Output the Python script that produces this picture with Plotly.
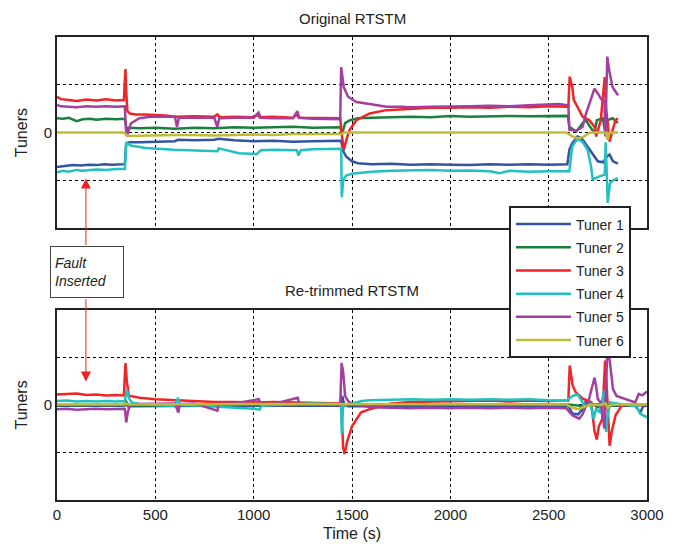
import plotly.graph_objects as go

# ---------------- DATA ----------------
names = ["Tuner 1", "Tuner 2", "Tuner 3", "Tuner 4", "Tuner 5", "Tuner 6"]
colors = ["#3553A3", "#1A803E", "#F02525", "#22C0C0", "#A43FA0", "#BDBD35"]

# Original RTSTM (top panel)
t1_top = [0, 40, 80, 120, 160, 200, 240, 280, 320, 345, 352, 370, 420, 480, 540, 600, 615, 700, 800, 820, 900, 1000, 1100, 1200, 1300, 1400, 1445, 1455, 1470, 1500, 1530, 1600, 1700, 1800, 1900, 2000, 2100, 2200, 2300, 2400, 2500, 2595, 2605, 2620, 2647, 2673, 2698, 2724, 2750, 2776, 2797, 2810, 2827, 2852]
v1_top = [-0.72, -0.70, -0.68, -0.69, -0.67, -0.68, -0.66, -0.67, -0.66, -0.66, -0.22, -0.20, -0.20, -0.19, -0.19, -0.18, -0.15, -0.16, -0.15, -0.13, -0.16, -0.18, -0.17, -0.19, -0.18, -0.17, -0.17, -0.38, -0.50, -0.60, -0.64, -0.66, -0.65, -0.67, -0.66, -0.67, -0.68, -0.66, -0.67, -0.66, -0.67, -0.66, -0.36, -0.22, -0.08, -0.15, -0.29, -0.43, -0.60, -0.62, -0.50, -0.46, -0.60, -0.65]

t2_top = [0, 30, 60, 100, 130, 170, 200, 250, 300, 345, 355, 365, 420, 500, 600, 700, 800, 900, 1000, 1100, 1200, 1300, 1400, 1440, 1450, 1465, 1490, 1530, 1600, 1700, 1800, 1900, 2000, 2100, 2200, 2300, 2400, 2500, 2598, 2605, 2640, 2673, 2690, 2707, 2733, 2745, 2775, 2788, 2800, 2825, 2852]
v2_top = [0.30, 0.29, 0.31, 0.24, 0.28, 0.29, 0.27, 0.29, 0.28, 0.29, 0.05, 0.10, 0.09, 0.10, 0.08, 0.10, 0.09, 0.11, 0.10, 0.11, 0.12, 0.10, 0.11, 0.11, -0.02, 0.20, 0.26, 0.30, 0.31, 0.32, 0.33, 0.32, 0.35, 0.33, 0.34, 0.35, 0.34, 0.35, 0.35, 0.12, 0.02, 0.20, 0.26, 0.14, -0.01, 0.26, 0.30, 0.00, 0.26, 0.30, 0.20]

t3_top = [0, 20, 60, 100, 150, 200, 250, 300, 340, 348, 352, 358, 370, 400, 450, 500, 550, 600, 700, 800, 815, 830, 900, 1000, 1020, 1030, 1100, 1200, 1220, 1230, 1300, 1400, 1440, 1450, 1458, 1475, 1488, 1522, 1560, 1590, 1675, 1750, 1845, 1900, 2000, 2100, 2200, 2300, 2400, 2500, 2600, 2607, 2620, 2628, 2673, 2707, 2733, 2742, 2765, 2785, 2792, 2810, 2823, 2840, 2852]
v3_top = [0.75, 0.70, 0.68, 0.66, 0.69, 0.67, 0.70, 0.67, 0.68, 1.33, 0.85, 0.45, 0.40, 0.38, 0.38, 0.37, 0.36, 0.33, 0.34, 0.33, 0.38, 0.32, 0.33, 0.32, 0.38, 0.32, 0.33, 0.31, 0.38, 0.31, 0.31, 0.31, 0.30, -0.10, -0.36, -0.10, 0.06, 0.26, 0.34, 0.40, 0.47, 0.49, 0.50, 0.52, 0.52, 0.53, 0.52, 0.54, 0.53, 0.55, 0.54, 1.17, 0.95, 0.68, 0.33, 0.26, 0.12, -0.08, 0.26, 1.16, 0.50, -0.19, 0.02, 0.26, 0.30]

t4_top = [0, 30, 60, 100, 130, 170, 200, 250, 300, 345, 352, 375, 450, 595, 700, 816, 822, 926, 1015, 1037, 1100, 1200, 1220, 1228, 1240, 1300, 1400, 1445, 1448, 1455, 1470, 1500, 1550, 1600, 1700, 1800, 1900, 2000, 2100, 2200, 2250, 2300, 2400, 2500, 2598, 2605, 2620, 2647, 2673, 2698, 2715, 2724, 2755, 2785, 2790, 2800, 2812, 2827, 2852]
v4_top = [-0.83, -0.80, -0.82, -0.78, -0.80, -0.78, -0.77, -0.78, -0.76, -0.76, -0.20, -0.27, -0.32, -0.36, -0.37, -0.39, -0.33, -0.43, -0.45, -0.37, -0.36, -0.36, -0.37, -0.48, -0.37, -0.35, -0.34, -0.34, -1.35, -1.00, -0.90, -0.86, -0.84, -0.82, -0.80, -0.79, -0.78, -0.80, -0.79, -0.81, -0.85, -0.80, -0.82, -0.81, -0.80, -0.81, -0.29, -0.12, -0.20, -0.36, -0.70, -0.98, -0.92, -0.88, -0.20, -1.47, -1.05, -1.00, -0.95]

t5_top = [0, 20, 60, 100, 150, 200, 250, 300, 345, 350, 356, 375, 419, 474, 560, 600, 610, 620, 700, 800, 815, 825, 900, 1000, 1025, 1035, 1100, 1200, 1222, 1232, 1300, 1400, 1440, 1445, 1458, 1480, 1522, 1590, 1675, 1750, 1800, 1900, 2000, 2100, 2200, 2300, 2400, 2500, 2550, 2600, 2605, 2640, 2672, 2690, 2715, 2733, 2750, 2767, 2784, 2788, 2798, 2808, 2825, 2853]
v5_top = [0.58, 0.55, 0.54, 0.53, 0.55, 0.54, 0.55, 0.54, 0.55, 0.10, -0.08, 0.19, 0.30, 0.33, 0.33, 0.33, 0.12, 0.31, 0.31, 0.31, 0.12, 0.30, 0.31, 0.31, 0.42, 0.31, 0.30, 0.30, 0.45, 0.31, 0.29, 0.29, 0.28, 1.37, 0.95, 0.75, 0.64, 0.60, 0.54, 0.54, 0.53, 0.54, 0.54, 0.55, 0.56, 0.55, 0.57, 0.58, 0.60, 0.57, 0.06, 0.04, 0.12, 0.40, 0.70, 0.92, 0.82, 0.70, 0.66, -0.08, 1.59, 1.30, 0.95, 0.78]

t6_top = [0, 100, 200, 340, 360, 450, 600, 700, 800, 1000, 1100, 1200, 1300, 1445, 1460, 1500, 1600, 1700, 2000, 2300, 2590, 2620, 2650, 2680, 2710, 2750, 2790, 2800, 2810, 2852]
v6_top = [0.0, 0.0, 0.0, 0.0, -0.07, -0.06, -0.05, -0.05, -0.06, -0.04, -0.05, -0.03, -0.03, -0.03, 0.0, 0.0, 0.01, 0.0, 0.0, 0.0, 0.0, -0.08, -0.12, -0.08, 0.0, 0.01, 0.0, -0.15, 0.0, 0.0]

# Re-trimmed RTSTM (bottom panel)
t1_bot = [0, 340, 350, 360, 800, 1445, 1450, 1460, 1480, 2000, 2600, 2620, 2650, 2680, 2690, 2720, 2760, 2790, 2800, 2820, 2900, 2940, 2966, 2980, 3000]
v1_bot = [-0.02, -0.02, 0.02, -0.03, -0.02, -0.02, 0.19, 0.02, -0.03, -0.02, -0.02, -0.18, -0.20, -0.05, 0.09, 0.0, 0.02, 0.09, 0.0, -0.02, -0.02, -0.02, -0.16, -0.03, -0.02]

t2_bot = [0, 340, 350, 365, 800, 1445, 1455, 1470, 2000, 2600, 2680, 2720, 2750, 2790, 2800, 2820, 3000]
v2_bot = [0.0, 0.0, 0.08, -0.01, 0.0, 0.01, -0.03, 0.0, 0.01, 0.01, -0.03, 0.03, -0.05, 0.0, -0.06, 0.0, 0.0]

t3_bot = [0, 50, 100, 150, 200, 250, 300, 340, 348, 355, 365, 380, 420, 500, 600, 700, 800, 900, 1000, 1100, 1200, 1300, 1400, 1445, 1455, 1462, 1475, 1500, 1545, 1590, 1650, 1700, 1800, 1900, 2000, 2100, 2200, 2300, 2400, 2500, 2600, 2607, 2622, 2637, 2673, 2716, 2733, 2745, 2755, 2772, 2787, 2795, 2810, 2820, 2840, 2874, 3000]
v3_bot = [0.22, 0.23, 0.24, 0.21, 0.22, 0.20, 0.21, 0.20, 0.88, 0.50, 0.20, 0.18, 0.15, 0.12, 0.10, 0.08, 0.06, 0.06, 0.05, 0.06, 0.05, 0.04, 0.04, 0.03, -0.90, -1.03, -0.78, -0.45, -0.16, -0.09, -0.02, 0.03, 0.06, 0.07, 0.08, 0.08, 0.09, 0.07, 0.09, 0.08, 0.09, 0.83, 0.41, 0.27, 0.13, 0.06, -0.55, -0.73, -0.45, -0.30, 0.93, 0.40, -0.86, -0.58, -0.22, 0.0, 0.0]

t4_bot = [0, 50, 100, 150, 200, 250, 300, 345, 355, 365, 380, 420, 500, 600, 615, 625, 700, 800, 850, 900, 1000, 1030, 1040, 1100, 1200, 1300, 1400, 1445, 1448, 1455, 1470, 1500, 1550, 1590, 1700, 1800, 1900, 2000, 2100, 2200, 2300, 2400, 2500, 2590, 2622, 2647, 2673, 2690, 2712, 2729, 2740, 2760, 2775, 2779, 2792, 2798, 2812, 2855, 2948, 2965, 3000]
v4_bot = [0.08, 0.09, 0.07, 0.08, 0.07, 0.08, 0.07, 0.08, 0.33, 0.15, 0.05, 0.02, 0.00, -0.02, 0.15, 0.0, -0.01, -0.03, -0.04, -0.06, -0.08, -0.10, -0.02, 0.0, 0.02, 0.03, 0.02, 0.0, -0.60, 0.0, 0.01, 0.03, 0.08, 0.10, 0.11, 0.12, 0.11, 0.12, 0.11, 0.12, 0.11, 0.12, 0.10, 0.09, 0.19, 0.22, 0.05, -0.03, 0.02, -0.29, -0.09, -0.15, 0.15, 0.30, -0.57, -0.30, 0.05, 0.02, -0.03, -0.19, -0.26]

t5_bot = [0, 50, 100, 150, 200, 250, 300, 345, 352, 360, 370, 400, 600, 617, 625, 700, 816, 822, 900, 1026, 1035, 1100, 1224, 1232, 1300, 1440, 1447, 1455, 1465, 1480, 1500, 1600, 1700, 1800, 1900, 2000, 2100, 2200, 2300, 2400, 2500, 2590, 2605, 2622, 2655, 2672, 2705, 2733, 2741, 2750, 2765, 2784, 2798, 2810, 2827, 2845, 2940, 2958, 2975, 3000]
v5_bot = [-0.09, -0.08, -0.10, -0.09, -0.08, -0.09, -0.08, -0.08, -0.37, -0.15, -0.02, 0.02, 0.03, -0.16, 0.02, 0.03, -0.12, 0.02, 0.03, 0.12, 0.03, 0.02, 0.15, 0.02, 0.01, 0.0, 0.88, 0.70, 0.19, 0.08, 0.02, -0.05, -0.06, -0.07, -0.06, -0.07, -0.06, -0.07, -0.06, -0.07, -0.06, -0.07, -0.15, -0.22, -0.29, -0.20, 0.12, 0.57, 0.40, 0.12, 0.05, -0.50, 1.09, 0.95, 0.33, 0.19, 0.05, 0.23, 0.20, 0.28]

t6_bot = [0, 340, 350, 360, 1000, 1440, 1460, 2000, 2590, 2620, 2650, 2680, 2720, 2760, 2790, 2800, 2815, 2850, 3000]
v6_bot = [0.01, 0.01, 0.03, 0.01, 0.02, 0.02, 0.01, 0.01, 0.01, -0.06, -0.09, -0.04, 0.01, 0.0, 0.03, -0.06, 0.0, 0.01, 0.01]

x_ticks = [0, 500, 1000, 1500, 2000, 2500, 3000]
y_ticks = [-1, 0, 1]
y_ticktext = ["", "0", ""]
fault_time = 147

top_t = [t1_top, t2_top, t3_top, t4_top, t5_top, t6_top]
top_v = [v1_top, v2_top, v3_top, v4_top, v5_top, v6_top]
bot_t = [t1_bot, t2_bot, t3_bot, t4_bot, t5_bot, t6_bot]
bot_v = [v1_bot, v2_bot, v3_bot, v4_bot, v5_bot, v6_bot]

# ---------------- FIGURE ----------------
FONT = "Liberation Sans, Arial, sans-serif"
TXT = "#222222"
fig = go.Figure()

for i in range(6):
    fig.add_trace(go.Scatter(x=top_t[i], y=top_v[i], mode="lines", name=names[i],
                             line=dict(color=colors[i], width=2.5),
                             legendgroup=names[i], xaxis="x", yaxis="y"))
for i in range(6):
    fig.add_trace(go.Scatter(x=bot_t[i], y=bot_v[i], mode="lines", name=names[i],
                             line=dict(color=colors[i], width=2.5), showlegend=False,
                             legendgroup=names[i], xaxis="x2", yaxis="y2"))

axis_common = dict(showline=True, mirror=True, linecolor=TXT, linewidth=2,
                   showgrid=True, gridcolor="#000000", griddash="dot", gridwidth=1,
                   zeroline=False, ticks="", tickfont=dict(family=FONT, size=15, color=TXT))

fig.update_layout(
    width=682, height=552,
    margin=dict(l=57, r=35, t=37, b=50),
    paper_bgcolor="white", plot_bgcolor="white",
    font=dict(family=FONT, color=TXT),
    xaxis=dict(domain=[0, 1], anchor="y", range=[0, 3000], tickvals=x_ticks,
               showticklabels=False, **axis_common),
    yaxis=dict(domain=[0.587, 1], anchor="x", range=[-2, 2], tickvals=y_ticks,
               ticktext=y_ticktext, title=dict(text="Tuners", standoff=12,
               font=dict(family=FONT, size=16, color=TXT)), **axis_common),
    xaxis2=dict(domain=[0, 1], anchor="y2", range=[0, 3000], tickvals=x_ticks,
                title=dict(text="Time (s)", standoff=6, font=dict(family=FONT, size=16, color=TXT)),
                **axis_common),
    yaxis2=dict(domain=[0, 0.4108], anchor="x2", range=[-2, 2], tickvals=y_ticks,
                ticktext=y_ticktext, title=dict(text="Tuners", standoff=12,
                font=dict(family=FONT, size=16, color=TXT)), **axis_common),
    legend=dict(x=0.766, y=0.634, xanchor="left", yanchor="top",
                bgcolor="white", bordercolor=TXT, borderwidth=2,
                font=dict(family=FONT, size=14, color=TXT),
                tracegroupgap=2, entrywidth=82, itemwidth=55),
    showlegend=True,
)

annotations = [
    dict(text="Original RTSTM", x=0.5, y=1.041, xref="paper", yref="paper",
         showarrow=False, font=dict(family=FONT, size=15, color=TXT), yanchor="middle"),
    dict(text="Re-trimmed RTSTM", x=0.5, y=0.4516, xref="paper", yref="paper",
         showarrow=False, font=dict(family=FONT, size=15, color=TXT), yanchor="middle"),
    dict(text="<i>Fault<br>Inserted</i>", x=0.0508, y=0.4925, xref="paper", yref="paper",
         xanchor="center", yanchor="middle",
         showarrow=False, align="left", bgcolor="white", bordercolor="#444444",
         borderwidth=1, borderpad=4, width=64, height=42,
         font=dict(family=FONT, size=14, color=TXT)),
    dict(text="", x=fault_time, y=-0.96, xref="x", yref="y", ax=0, ay=68,
         showarrow=True, arrowhead=2, arrowsize=2, arrowwidth=1, arrowcolor="#EE2222"),
    dict(text="", x=fault_time, y=0.49, xref="x2", yref="y2", ax=0, ay=-84,
         showarrow=True, arrowhead=2, arrowsize=2, arrowwidth=1, arrowcolor="#EE2222"),
]
fig.update_layout(annotations=annotations)

fig.write_html("out.html")
